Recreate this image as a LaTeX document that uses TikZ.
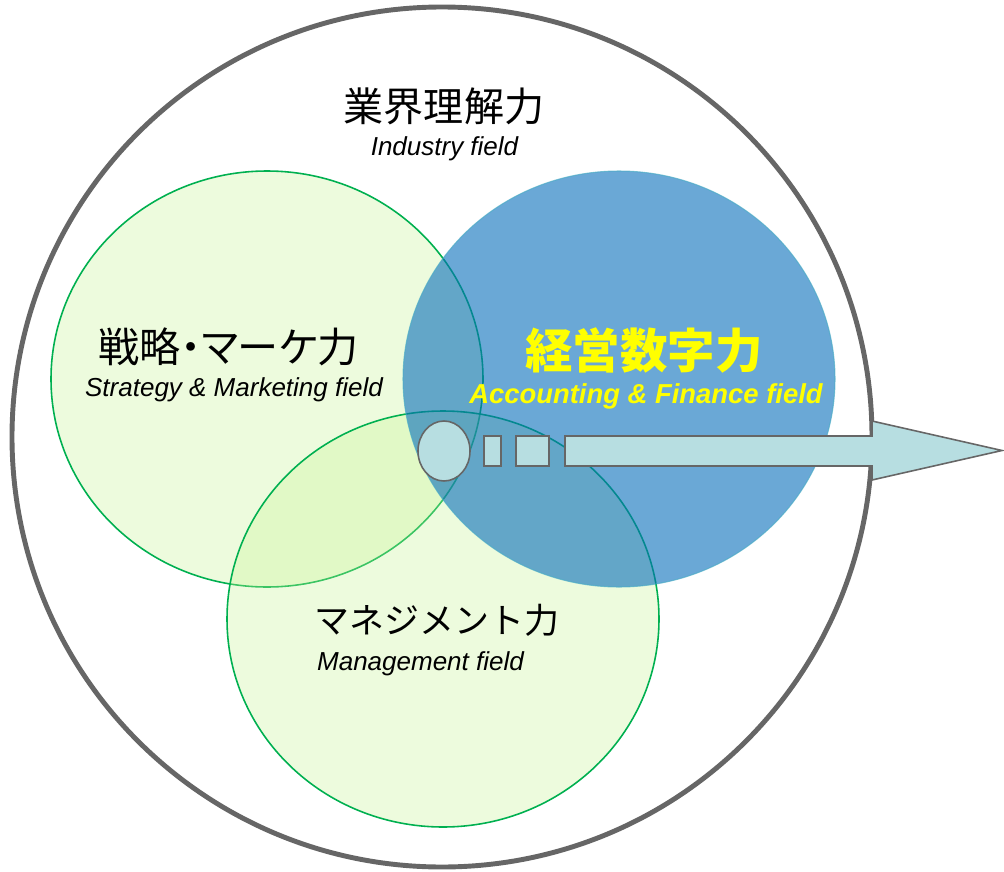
\documentclass[tikz,border=0pt]{standalone}
\usepackage{fontspec}
\setmainfont{Liberation Sans}
\newfontfamily\jpfont{Noto Sans CJK JP}
\newfontfamily\jppfont[RawFeature=+palt]{Noto Sans CJK JP}

\definecolor{ringgray}{RGB}{102,102,102}
\definecolor{fieldgreen}{RGB}{198,245,145}
\definecolor{edgegreen}{RGB}{0,176,80}
\definecolor{fieldblue}{RGB}{7,110,187}
\definecolor{edgeblue}{RGB}{75,172,198}
\definecolor{arrowcyan}{RGB}{183,222,225}
\definecolor{textyellow}{RGB}{255,255,0}

\tikzset{
  greenfield/.style={fill=fieldgreen, fill opacity=0.3, draw=edgegreen, line width=0.9pt},
  bluefield/.style={fill=fieldblue, fill opacity=0.6, draw=edgeblue, draw opacity=0.7, line width=0.6pt},
  flowpart/.style={fill=arrowcyan, draw=ringgray, line width=0.9pt},
  jplabel/.style={font=\jpfont\fontsize{#1}{#1}\selectfont, inner sep=0pt},
  enlabel/.style={font=\itshape\fontsize{14.8}{17}\selectfont, inner sep=0pt, anchor=base},
}

\begin{document}
\begin{tikzpicture}[x=0.02cm,y=-0.02cm]
  \useasboundingbox (0,0) rectangle (1004,872);

  % Drawing outer circle (industry)
  \draw [draw=ringgray, fill=white, line width=2.8pt] (442,437) circle [radius=430];

  % Drawing circle strategy
  \draw [greenfield] (267,379) circle [x radius=216, y radius=208];

  % Drawing circle management
  \draw [greenfield] (443,619) circle [x radius=216, y radius=208];

  % Drawing circle accounting (on top)
  \draw [bluefield] (619,379) circle [x radius=216, y radius=208];

  % Drawing ellipse, two boxes and arrow
  \draw [flowpart] (444,451) circle [x radius=26, y radius=30];
  \draw [flowpart] (484,436) rectangle (501,466);
  \draw [flowpart] (516,436) rectangle (549,466);
  \draw [flowpart] (565,436) -- (872,436) -- (872,421) -- (1002,450.5)
        -- (872,480) -- (872,466) -- (565,466) -- cycle;

  % Labels industry
  \node [jplabel=22.8] (indjp) at (444,106) {業界理解力};
  \node [enlabel] (inden) at (444.5,155) {Industry field};

  % Labels strategy
  \node [inner sep=0pt, font=\jppfont\fontsize{23.4}{23.4}\selectfont] (strjp) at (228.5,346.5) {戦略・マーケ力};
  \node [enlabel] (stren) at (234,396) {Strategy \& Marketing field};

  % Labels accounting
  \node [inner sep=0pt, text=textyellow, font=\jpfont\bfseries\fontsize{27}{27}\selectfont] (accjp) at (644,350) {経営数字力};
  \node [enlabel, text=textyellow, font=\bfseries\itshape\fontsize{15.6}{18}\selectfont] (accen) at (646,403) {Accounting \& Finance field};

  % Labels management
  \node [jplabel=19.9] (mgtjp) at (437,620) {マネジメント力};
  \node [enlabel] (mgten) at (420.5,670) {Management field};
\end{tikzpicture}
\end{document}
